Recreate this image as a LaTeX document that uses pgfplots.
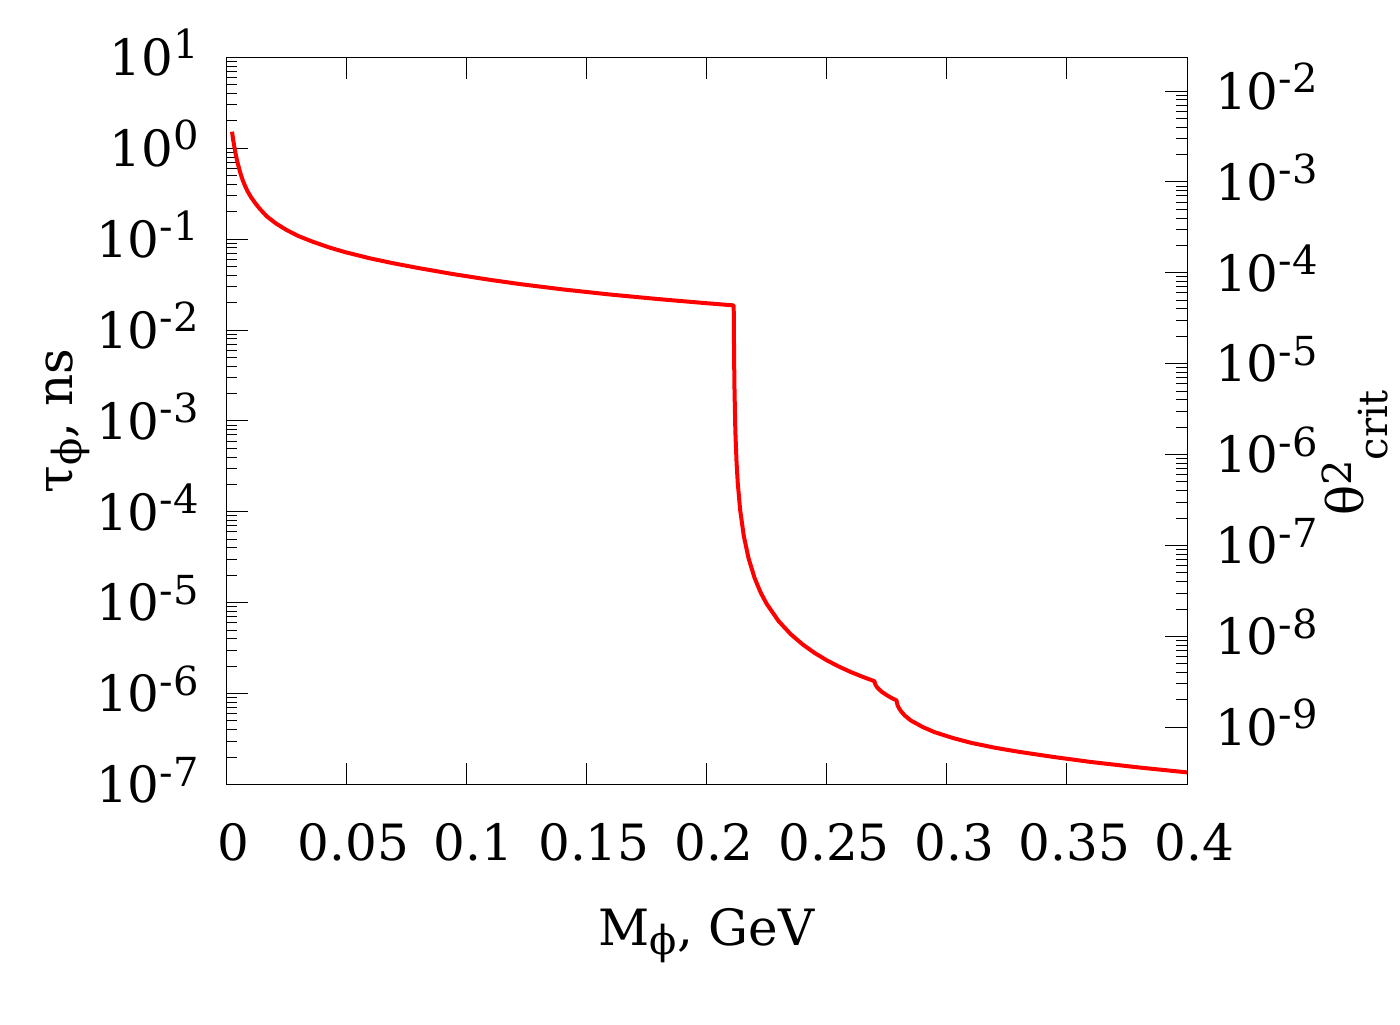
\documentclass[border=0pt]{standalone}
\usepackage{fontspec}
\setmainfont{DejaVu Serif}
\usepackage{pgfplots}
\pgfplotsset{compat=1.18}
\newcommand{\sups}[1]{\raisebox{8.3pt}{\fontsize{20}{20}\selectfont #1}}
\newcommand{\subs}[1]{\raisebox{-4.5pt}{\fontsize{20}{20}\selectfont #1}}
\newcommand{\pw}[1]{10\sups{#1}}

\begin{document}
\begin{tikzpicture}[font=\fontsize{25}{30}\selectfont]
\useasboundingbox (0,0) rectangle (700pt,512pt);
\begin{axis}[
  at={(113pt,119.75pt)}, anchor=south west,
  width=480.5pt, height=363.6pt, scale only axis,
  xmin=0, xmax=0.4, ymode=log, ymin=1e-7, ymax=10,
  axis line style={-, line width=0.5pt},
  every tick/.style={black, line width=0.5pt},
  major tick length=11pt, minor tick length=5.5pt,
  xtick={0,0.05,0.1,0.15,0.2,0.25,0.3,0.35,0.4},
  xticklabels={0,0.05,0.1,0.15,0.2,0.25,0.3,0.35,0.4},
  minor x tick num=0,
  xtick pos=both, ytick pos=left,
  ytick={1e-7,1e-6,1e-5,1e-4,1e-3,1e-2,1e-1,1,10},
  yticklabels={\pw{-7},\pw{-6},\pw{-5},\pw{-4},\pw{-3},\pw{-2},\pw{-1},\pw{0},\pw{1}},
  xticklabel style={anchor=base, inner sep=0pt, xshift=3.75pt, yshift=-37.75pt},
  yticklabel style={anchor=base east, inner sep=0pt, xshift=-13.5pt, yshift=-9.1pt},
  xlabel={M\subs{ϕ}, GeV},
  ylabel={τ\subs{ϕ}, ns},
  xlabel style={at={(rel axis cs:0.5,-0.22071)}, anchor=base, inner sep=0pt},
  ylabel style={at={(rel axis cs:-0.16025,0.5)}, anchor=base, inner sep=0pt},
]
\addplot[red, line width=2pt, line join=round] table {
x y
0.0025 1.521
0.003 1.227
0.0035 1.028
0.004 0.871
0.0045 0.755
0.005 0.664
0.006 0.530
0.007 0.4416
0.008 0.381
0.009 0.335
0.0104 0.290
0.012 0.2523
0.014 0.2163
0.017 0.1778
0.0208 0.1486
0.025 0.1268
0.03 0.1084
0.036 0.0938
0.043 0.0809
0.05 0.0714
0.06 0.0614
0.07 0.0540
0.08 0.0481
0.0946 0.0412
0.11 0.0356
0.1224 0.0320
0.14 0.0280
0.16 0.02455
0.18 0.02188
0.2 0.01972
0.21132 0.01866
0.2114 9.25e-3
0.2116 2.59e-3
0.2120 7.76e-4
0.2125 3.51e-4
0.2130 2.09e-4
0.2140 1.05e-4
0.2155 5.46e-5
0.2175 3.08e-5
0.2200 1.875e-5
0.2225 1.30e-5
0.2250 9.75e-6
0.2300 6.28e-6
0.2350 4.52e-6
0.2400 3.48e-6
0.2450 2.80e-6
0.2500 2.33e-6
0.2550 1.99e-6
0.2600 1.73e-6
0.2650 1.53e-6
0.26995 1.368e-6
0.2700 1.324e-6
0.2702 1.274e-6
0.2705 1.227e-6
0.2710 1.175e-6
0.2715 1.135e-6
0.2730 1.045e-6
0.2750 9.62e-7
0.2770 8.97e-7
0.27914 8.41e-7
0.2792 8.05e-7
0.2795 7.50e-7
0.2800 7.00e-7
0.2810 6.38e-7
0.2825 5.75e-7
0.2850 5.07e-7
0.2900 4.29e-7
0.2950 3.76e-7
0.3027 3.24e-7
0.3100 2.88e-7
0.3200 2.54e-7
0.3300 2.29e-7
0.3444 2.01e-7
0.3600 1.77e-7
0.3800 1.54e-7
0.4000 1.36e-7
};
\end{axis}
\begin{axis}[
  at={(113pt,119.75pt)}, anchor=south west,
  width=480.5pt, height=363.6pt, scale only axis,
  xmin=0, xmax=0.4, axis x line=none, axis y line*=right,
  ymode=log, ymin=2.348e-10, ymax=2.348e-2,
  axis line style={-, line width=0.5pt},
  every tick/.style={black, line width=0.5pt},
  major tick length=11pt, minor tick length=5.5pt,
  ytick={1e-9,1e-8,1e-7,1e-6,1e-5,1e-4,1e-3,1e-2},
  yticklabels={\pw{-9},\pw{-8},\pw{-7},\pw{-6},\pw{-5},\pw{-4},\pw{-3},\pw{-2}},
  yticklabel style={anchor=base west, inner sep=0pt, xshift=13.8pt, yshift=-9.1pt},
  ylabel={θ\raisebox{5.8pt}{\fontsize{20}{20}\selectfont 2}\raisebox{-12pt}{\fontsize{20}{20}\selectfont crit}},
  ylabel style={at={(rel axis cs:1.18356,0.456)}, anchor=base, inner sep=0pt},
]
\end{axis}
\end{tikzpicture}
\end{document}
